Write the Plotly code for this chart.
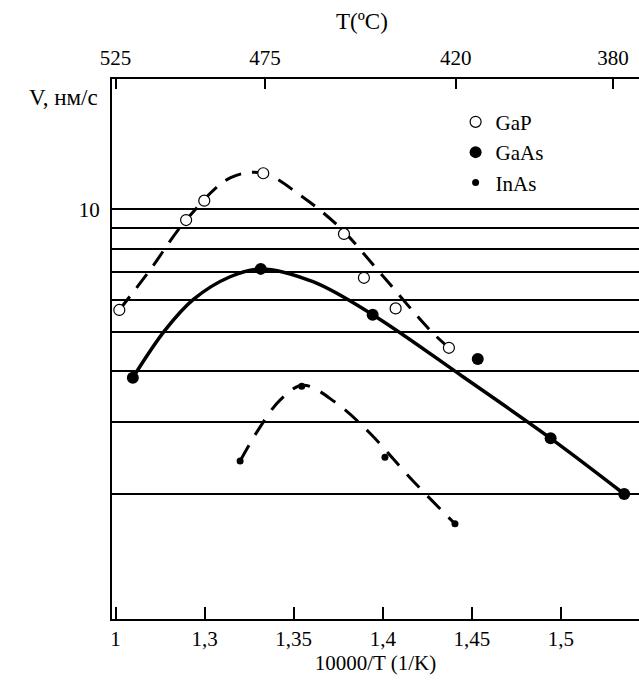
import plotly.graph_objects as go

# ---- data ----
# measured points (x = 10000/T scaled as on the axis, y = V, nm/s)
gap_x = [1.2521, 1.2896, 1.2998, 1.3329, 1.3782, 1.3894, 1.4072, 1.4371]
gap_y = [5.66, 9.41, 10.50, 12.26, 8.70, 6.79, 5.71, 4.57]

gaas_x = [1.2597, 1.3315, 1.3943, 1.4533, 1.4942, 1.5355]
gaas_y = [3.86, 7.14, 5.51, 4.29, 2.74, 2.00]

inas_x = [1.3199, 1.3545, 1.4012, 1.4405]
inas_y = [2.41, 3.68, 2.46, 1.69]

# hand-drawn fit curves (nodes)
gap_fit_x = [1.2521, 1.2694, 1.2896, 1.3143, 1.3329, 1.3535, 1.3761, 1.3990, 1.4265, 1.4371]
gap_fit_y = [5.66, 7.10, 9.41, 11.94, 12.26, 10.84, 9.00, 6.94, 5.05, 4.57]

gaas_fit_x = [1.2597, 1.2778, 1.2937, 1.3143, 1.3315, 1.3608, 1.3943, 1.4450, 1.4942, 1.5355]
gaas_fit_y = [3.86, 5.05, 6.01, 6.83, 7.14, 6.64, 5.51, 3.88, 2.74, 2.00]

inas_fit_x = [1.3199, 1.3300, 1.3423, 1.3552, 1.3737, 1.3928, 1.4158, 1.4405]
inas_fit_y = [2.41, 2.87, 3.40, 3.70, 3.35, 2.82, 2.18, 1.69]

# axes
bottom_tick_vals = [1.25, 1.30, 1.35, 1.40, 1.45, 1.50]
bottom_tick_text = ["1", "1,3", "1,35", "1,4", "1,45", "1,5"]
top_tick_vals = [1.2500, 1.3339, 1.4409, 1.5292]
top_tick_text = ["525", "475", "420", "380"]
grid_vals = [2, 3, 4, 5, 6, 7, 8, 9, 10]
grid_text = ["", "", "", "", "", "", "", "", "10"]

x_range = [1.2480, 1.5438]
y_range = [-0.0059, 1.3199]

FONT = "Liberation Serif"

fig = go.Figure()

# fit curves
fig.add_trace(go.Scatter(x=gap_fit_x, y=gap_fit_y, mode="lines",
                         line=dict(color="black", width=3, dash="17px,11px",
                                   shape="spline", smoothing=1.0),
                         showlegend=False, hoverinfo="skip"))
fig.add_trace(go.Scatter(x=gaas_fit_x, y=gaas_fit_y, mode="lines",
                         line=dict(color="black", width=3.5, shape="spline", smoothing=1.0),
                         showlegend=False, hoverinfo="skip"))
fig.add_trace(go.Scatter(x=inas_fit_x, y=inas_fit_y, mode="lines",
                         line=dict(color="black", width=3, dash="18px,12px",
                                   shape="spline", smoothing=1.0),
                         showlegend=False, hoverinfo="skip"))

# points
fig.add_trace(go.Scatter(x=gap_x, y=gap_y, mode="markers", name="GaP",
                         marker=dict(symbol="circle", size=11, color="white",
                                     line=dict(color="black", width=1.2))))
fig.add_trace(go.Scatter(x=gaas_x, y=gaas_y, mode="markers", name="GaAs",
                         marker=dict(symbol="circle", size=12, color="black",
                                     line=dict(width=0))))
fig.add_trace(go.Scatter(x=inas_x, y=inas_y, mode="markers", name="InAs",
                         marker=dict(symbol="circle", size=7, color="black",
                                     line=dict(width=0))))

# invisible trace to activate the top axis
fig.add_trace(go.Scatter(x=[x_range[0]], y=[1], xaxis="x2", mode="markers",
                         marker=dict(opacity=0), showlegend=False, hoverinfo="skip"))

fig.update_layout(
    width=639, height=684,
    margin=dict(l=112, r=0, t=79, b=65),
    paper_bgcolor="white", plot_bgcolor="white",
    font=dict(family=FONT, size=20, color="black"),
    showlegend=True,
    legend=dict(x=0.652, y=0.958, xanchor="left", yanchor="top",
                bgcolor="rgba(0,0,0,0)", font=dict(family=FONT, size=21),
                tracegroupgap=0, itemsizing="trace"),
    xaxis=dict(range=x_range, tickvals=bottom_tick_vals, ticktext=bottom_tick_text,
               ticks="inside", ticklen=12, tickwidth=1.5, tickcolor="black",
               showline=True, linecolor="black", linewidth=2, mirror=False,
               showgrid=False, zeroline=False,
               tickfont=dict(family=FONT, size=21),
               title=dict(text="10000/T (1/K)", font=dict(family=FONT, size=21), standoff=4)),
    xaxis2=dict(range=x_range, overlaying="x", side="top",
                tickvals=top_tick_vals, ticktext=top_tick_text,
                ticks="inside", ticklen=10, tickwidth=1.5, tickcolor="black",
                showline=True, linecolor="black", linewidth=2,
                showgrid=False, zeroline=False, ticklabelstandoff=4,
                tickfont=dict(family=FONT, size=21)),
    yaxis=dict(type="log", range=y_range, tickvals=grid_vals, ticktext=grid_text,
               ticks="", showline=True, linecolor="black", linewidth=2,
               showgrid=True, gridcolor="black", gridwidth=1.5, zeroline=False,
               ticklabelstandoff=6,
               tickfont=dict(family=FONT, size=21)),
)

# top axis title
fig.add_annotation(text="T(ºC)", xref="paper", yref="paper",
                   x=(362 - 112) / 527, y=1 + (79 - 22) / 540,
                   xanchor="center", yanchor="middle", showarrow=False,
                   font=dict(family=FONT, size=23, color="black"))

# y axis title
fig.add_annotation(text="V, нм/с", xref="paper", yref="paper",
                   x=-0.022, y=0.965, xanchor="right", yanchor="middle", showarrow=False,
                   font=dict(family=FONT, size=23, color="black"))

fig.write_html("out.html")
